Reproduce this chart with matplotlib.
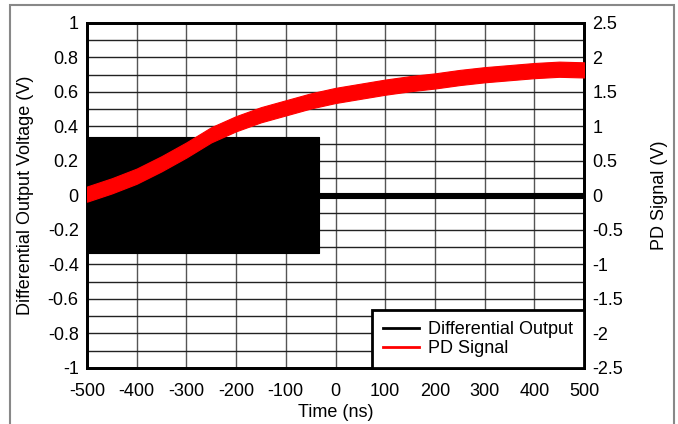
import numpy as np
import matplotlib
matplotlib.use('Agg')
from matplotlib import pyplot as plt
from matplotlib.lines import Line2D

plt.rcParams['font.family'] = ['Liberation Sans', 'DejaVu Sans']
plt.rcParams['axes.unicode_minus'] = False

# axis ticks
x_ticks = [-500, -400, -300, -200, -100, 0, 100, 200, 300, 400, 500]
left_ticks = [-1, -0.8, -0.6, -0.4, -0.2, 0, 0.2, 0.4, 0.6, 0.8, 1]
left_minor = [-0.9, -0.7, -0.5, -0.3, -0.1, 0.1, 0.3, 0.5, 0.7, 0.9]
right_ticks = [-2.5, -2, -1.5, -1, -0.5, 0, 0.5, 1, 1.5, 2, 2.5]

# Differential output envelope (left axis, V)
diff_time = [-500, -33, -33, 500]
diff_upper = [0.337, 0.337, 0.014, 0.014]
diff_lower = [-0.333, -0.333, -0.012, -0.012]

# PD signal band (right axis, V)
pd_time = [-500, -450, -400, -350, -300, -250, -200, -150, -100, -50,
           0, 50, 100, 150, 200, 250, 300, 350, 400, 450, 500]
pd_center = [0.02, 0.14, 0.28, 0.46, 0.66, 0.88, 1.04, 1.17, 1.27, 1.37,
             1.45, 1.51, 1.57, 1.62, 1.66, 1.71, 1.75, 1.78, 1.81, 1.83, 1.82]
pd_halfwidth = 0.11

fig = plt.figure(figsize=(6.78, 4.24), dpi=100)
ax = fig.add_axes([0.1283, 0.1321, 0.7331, 0.8137])
ax2 = ax.twinx()

ax.fill_between(diff_time, diff_lower, diff_upper, color='black', lw=0.8, zorder=3)
pd_c = np.array(pd_center)
ax2.fill_between(pd_time, pd_c - pd_halfwidth, pd_c + pd_halfwidth,
                 color='#ff0000', lw=0.8, zorder=3)

ax.set_xlim(-500, 500)
ax.set_ylim(-1, 1)
ax2.set_ylim(-2.5, 2.5)
ax.set_xticks(x_ticks, [f'{v:g}' for v in x_ticks])
ax.set_yticks(left_ticks, [f'{v:g}' for v in left_ticks])
ax.set_yticks(left_minor, minor=True)
ax2.set_yticks(right_ticks, [f'{v:g}' for v in right_ticks])

ax.grid(True, axis='x', which='major', color='#555555', lw=1)
ax.grid(True, axis='y', which='both', color='#222222', lw=1)
ax.set_axisbelow(True)

for a in (ax, ax2):
    a.tick_params(which='both', length=0, labelsize=13, pad=6)
    for s in a.spines.values():
        s.set_linewidth(2)
        s.set_color('black')
ax.tick_params(axis='x', pad=11)

ax.set_xlabel('Time (ns)', fontsize=13, labelpad=3)
ax.set_ylabel('Differential Output Voltage (V)', fontsize=13, labelpad=10)
ax2.set_ylabel('PD Signal (V)', fontsize=13, labelpad=20)

handles = [Line2D([], [], color='black', lw=2), Line2D([], [], color='#ff0000', lw=2)]
leg = ax2.legend(handles, ['Differential Output', 'PD Signal'], loc='lower right',
                 borderaxespad=0, fontsize=13, fancybox=False, framealpha=1,
                 edgecolor='black', handlelength=2, borderpad=0.6,
                 labelspacing=0.12, handletextpad=0.5)
leg.get_frame().set_linewidth(2)
leg.set_zorder(10)

# gray outer border
border = matplotlib.patches.Rectangle((10 / 678, -0.02), 664 / 678, 1.02 - 5 / 424,
                                      transform=fig.transFigure, fill=False,
                                      edgecolor='#888888', lw=1.5)
fig.patches.append(border)

fig.savefig('out.png', dpi=100)
